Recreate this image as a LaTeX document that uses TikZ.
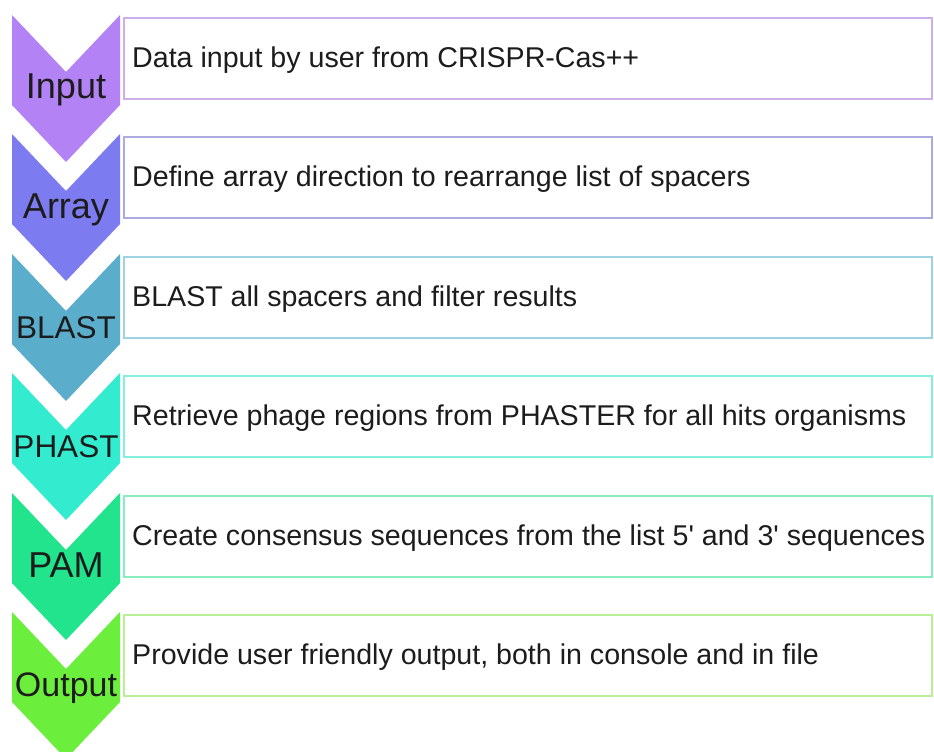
\documentclass[tikz,border=0pt]{standalone}
\usepackage{fontspec}
\setmainfont{Liberation Sans}
\definecolor{cA}{HTML}{B383F5}
\definecolor{cB}{HTML}{7C7CF0}
\definecolor{cC}{HTML}{5AADCB}
\definecolor{cD}{HTML}{33EBCF}
\definecolor{cE}{HTML}{22E48C}
\definecolor{cF}{HTML}{6CEF3C}
\definecolor{bA}{HTML}{CDB0EA}
\definecolor{bB}{HTML}{ABABE2}
\definecolor{bC}{HTML}{9FD2E2}
\definecolor{bD}{HTML}{86EEDD}
\definecolor{bE}{HTML}{88EDBE}
\definecolor{bF}{HTML}{BAF095}
\definecolor{txtcol}{HTML}{1C1C1C}
\tikzset{
  stepbox/.style={draw=#1, line width=1.6pt, minimum width=808pt, minimum height=81pt, anchor=north west, inner sep=0pt},
  steptext/.style={anchor=base west, font=\fontsize{28.6}{34}\selectfont, text=txtcol, inner sep=0pt},
  chevlabel/.style={anchor=base, inner sep=0pt, text=txtcol}
}
\begin{document}
\begin{tikzpicture}[x=1pt,y=-1pt]
\useasboundingbox (0,0) rectangle (934,752);
\fill[white] (0,0) rectangle (934,752);
\foreach \n/\y/\fc/\bc/\lab/\fs/\txt in {
  1/15/cA/bA/Input/36/{Data input by user from CRISPR-Cas++},
  2/134/cB/bB/Array/36/{Define array direction to rearrange list of spacers},
  3/254/cC/bC/BLAST/31.5/{BLAST all spacers and filter results},
  4/373/cD/bD/PHAST/31.5/{Retrieve phage regions from PHASTER for all hits organisms},
  5/493/cE/bE/PAM/36/{Create consensus sequences from the list 5\textquotesingle{} and 3\textquotesingle{} sequences},
  6/612/cF/bF/Output/34/{Provide user friendly output, both in console and in file}}{
  \fill[\fc] (12,\y) -- (66,\y+57) -- (120,\y) -- (120,\y+90) -- (66,\y+147) -- (12,\y+90) -- cycle;
  \node[stepbox=\bc] (box\n) at (123,\y+2) {};
  \node[steptext] (txt\n) at (132,\y+52) {\txt};
  \node[chevlabel, font=\fontsize{\fs}{\fs}\selectfont] (lab\n) at (66,\y+84) {\lab};
}
\end{tikzpicture}
\end{document}
